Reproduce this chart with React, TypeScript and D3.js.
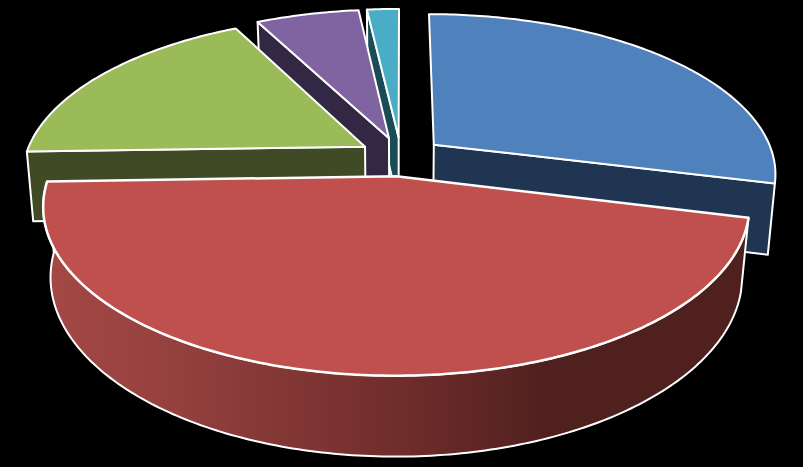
import React from "react";
import * as d3 from "d3";

const width = 803;
const height = 467;

const categories = ["A", "B", "C", "D", "E"];
const values = [28.9, 45.6, 17.9, 5.8, 1.8];
const topColors = ["#4f81bd", "#c0504d", "#9bbb59", "#8064a2", "#4bacc6"];
const wallColors = ["#1f3552", "url(#redWall)", "#404a24", "#332843", "#1a4c55"];
const topStrokes = [2, 2.5, 2, 2, 2];
const paintOrder = [4, 3, 2, 0, 1];

// Perspective settings for the tilted pie
const centerX = 401;
const centerY = 156.5;
const radiusX = 340;
const radiusY = 157;
const perspective = 0.174;
const explode = 0.124;
const depth = 70;
const depthPerspective = 0.12;
const minWallSweep = Math.PI / 6;

type P = [number, number];
const project = (u: number, v: number, z: number): P => {
  const s = 1 / (1 - perspective * v);
  const x = centerX + radiusX * u * s;
  const y = centerY + radiusY * v * s;
  if (z === 0) return [x, y];
  const shrink = 0.983 - 0.012 * Math.max(v, 0);
  return [centerX + (x - centerX) * shrink, y + depth / (1 - depthPerspective * v)];
};

const line = d3.line<P>();

export default function App() {
  const arcs = d3.pie<number>().sort(null).startAngle(0).endAngle(Math.PI * 2)(values);
  const faces = paintOrder.map((i) => {
    const a = arcs[i];
    const mid = (a.startAngle + a.endAngle) / 2;
    const ou = Math.sin(mid) * explode;
    const ov = -Math.cos(mid) * explode;
    const at = (t: number, z: number) => project(ou + Math.sin(t), ov - Math.cos(t), z);
    const apex = (z: number) => project(ou, ov, z);
    const sweep = (t0: number, t1: number, z: number) => {
      const n = Math.max(2, Math.ceil(Math.abs(t1 - t0) / 0.015));
      return d3.range(n + 1).map((k) => at(t0 + ((t1 - t0) * k) / n, z));
    };
    const top = line([apex(0), ...sweep(a.startAngle, a.endAngle, 0)]) + "Z";
    const walls: string[] = [];
    if (Math.sin(a.startAngle) < -1e-6) {
      walls.push(line([apex(0), at(a.startAngle, 0), at(a.startAngle, 1), apex(1)]) + "Z");
    }
    if (Math.sin(a.endAngle) > 1e-6) {
      walls.push(line([apex(0), at(a.endAngle, 0), at(a.endAngle, 1), apex(1)]) + "Z");
    }
    const t0 = Math.max(a.startAngle, Math.PI / 2);
    const t1 = Math.min(a.endAngle, (Math.PI * 3) / 2);
    if (t1 - t0 > minWallSweep) {
      walls.push(line([...sweep(t0, t1, 0), ...sweep(t1, t0, 1)]) + "Z");
    }
    return { i, top, walls };
  });

  return (
    <svg
      width={width}
      height={height}
      viewBox={`0 0 ${width} ${height}`}
      style={{ position: "fixed", left: 0, top: 0, background: "#000" }}
    >
      <defs>
        <linearGradient id="redWall" gradientUnits="userSpaceOnUse" x1={50} x2={750} y1={0} y2={0}>
          <stop offset="0" stopColor="#a34845" />
          <stop offset="0.15" stopColor="#974240" />
          <stop offset="0.5" stopColor="#702d2b" />
          <stop offset="0.72" stopColor="#4f201e" />
          <stop offset="1" stopColor="#4f201e" />
        </linearGradient>
      </defs>
      <rect width={width} height={height} fill="#000" />
      {faces.map((f) => (
        <g key={categories[f.i]} stroke="#fff" strokeWidth={2} strokeLinejoin="round">
          {f.walls.map((d, k) => (
            <path key={k} d={d} fill={wallColors[f.i]} />
          ))}
          <path d={f.top} fill={topColors[f.i]} strokeWidth={topStrokes[f.i]} />
        </g>
      ))}
    </svg>
  );
}
